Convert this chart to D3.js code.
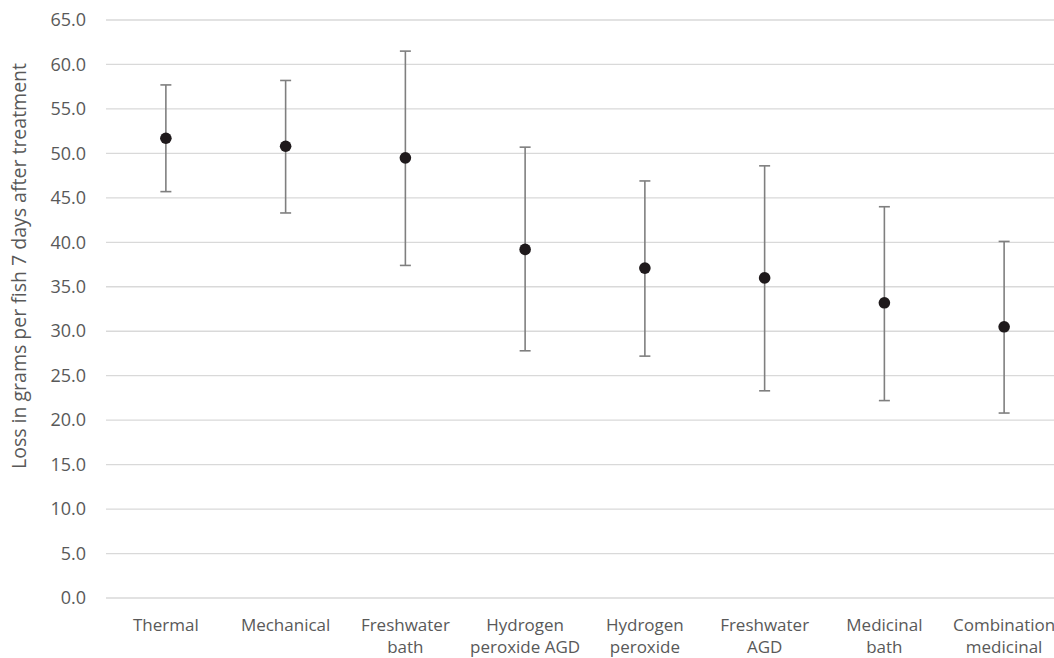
<!DOCTYPE html>
<html>
<head>
<meta charset="utf-8">
<script src="https://cdn.jsdelivr.net/npm/d3@7"></script>
<style>
  body { margin: 0; background: #fff; overflow: hidden; }
  text { font-family: "Open Sans", sans-serif; fill: #595959; }
</style>
</head>
<body>
<div class="chart"></div>
<script>
var categories = [
  ["Thermal"],
  ["Mechanical"],
  ["Freshwater", "bath"],
  ["Hydrogen", "peroxide AGD"],
  ["Hydrogen", "peroxide"],
  ["Freshwater", "AGD"],
  ["Medicinal", "bath"],
  ["Combination", "medicinal"]
];
var means = [51.7, 50.8, 49.5, 39.2, 37.1, 36.0, 33.2, 30.5];
var upper = [57.7, 58.2, 61.5, 50.7, 46.9, 48.6, 44.0, 40.1];
var lower = [45.7, 43.3, 37.4, 27.8, 27.2, 23.3, 22.2, 20.8];
var yTicks = d3.range(0, 65.1, 5);
var yLabel = "Loss in grams per fish 7 days after treatment";

var width = 1054, height = 658;
var margin = {top: 20, left: 106, bottom: 60};
var plotW = 958;

var svg = d3.select(".chart")
  .append("svg")
    .attr("width", width)
    .attr("height", height);

var x = d3.scaleBand()
  .domain(d3.range(categories.length))
  .range([margin.left, margin.left + plotW]);

var y = d3.scaleLinear()
  .domain([0, 65])
  .range([height - margin.bottom, margin.top]);

// gridlines
svg.append("g")
  .selectAll("line")
  .data(yTicks)
  .enter()
  .append("line")
    .attr("x1", margin.left)
    .attr("x2", margin.left + plotW)
    .attr("y1", function(d) { return y(d); })
    .attr("y2", function(d) { return y(d); })
    .attr("stroke", "#d9d9d9")
    .attr("stroke-width", 1.3);

// y axis labels
var yAxis = d3.axisLeft(y)
  .tickValues(yTicks)
  .tickFormat(d3.format(".1f"))
  .tickSize(0)
  .tickPadding(20);

svg.append("g")
  .attr("transform", "translate(" + margin.left + ",0)")
  .call(yAxis)
  .call(function(g) { g.select(".domain").remove(); })
  .selectAll("text")
    .style("font-size", "18px")
    .style("font-family", "'Open Sans', sans-serif")
    .attr("fill", "#595959");

svg.append("text")
  .attr("transform", "translate(26,266) rotate(-90)")
  .attr("text-anchor", "middle")
  .style("font-size", "19.5px")
  .text(yLabel);

// x labels
var xl = svg.append("g")
  .selectAll("text")
  .data(categories)
  .enter()
  .append("text")
    .attr("text-anchor", "middle")
    .attr("x", function(d, i) { return x(i) + x.bandwidth() / 2; })
    .attr("y", y(0) + 33)
    .style("font-size", "17px");

xl.selectAll("tspan")
  .data(function(d) { return d; })
  .enter()
  .append("tspan")
    .attr("x", function() { return d3.select(this.parentNode).attr("x"); })
    .attr("dy", function(d, i) { return i === 0 ? 0 : 22; })
    .text(function(d) { return d; });

// error bars
var bars = svg.append("g")
  .selectAll("g")
  .data(means)
  .enter()
  .append("g")
    .attr("stroke", "#7f7f7f")
    .attr("stroke-width", 1.6);

bars.append("line")
  .attr("x1", function(d, i) { return x(i) + x.bandwidth() / 2; })
  .attr("x2", function(d, i) { return x(i) + x.bandwidth() / 2; })
  .attr("y1", function(d, i) { return y(upper[i]); })
  .attr("y2", function(d, i) { return y(lower[i]); });

bars.append("line")
  .attr("x1", function(d, i) { return x(i) + x.bandwidth() / 2 - 5.5; })
  .attr("x2", function(d, i) { return x(i) + x.bandwidth() / 2 + 5.5; })
  .attr("y1", function(d, i) { return y(upper[i]); })
  .attr("y2", function(d, i) { return y(upper[i]); });

bars.append("line")
  .attr("x1", function(d, i) { return x(i) + x.bandwidth() / 2 - 5.5; })
  .attr("x2", function(d, i) { return x(i) + x.bandwidth() / 2 + 5.5; })
  .attr("y1", function(d, i) { return y(lower[i]); })
  .attr("y2", function(d, i) { return y(lower[i]); });

// points
svg.append("g")
  .selectAll("circle")
  .data(means)
  .enter()
  .append("circle")
    .attr("cx", function(d, i) { return x(i) + x.bandwidth() / 2; })
    .attr("cy", function(d) { return y(d); })
    .attr("r", 5.8)
    .attr("fill", "#1f1a1c");
</script>
</body>
</html>
